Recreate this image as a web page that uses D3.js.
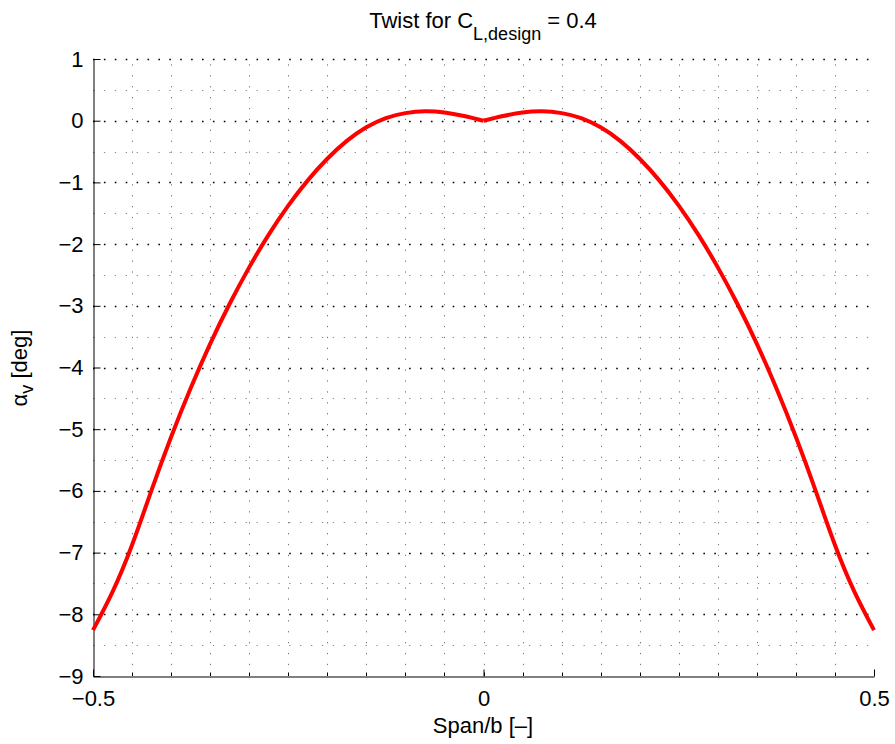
<!DOCTYPE html>
<html>
<head>
<meta charset="utf-8">
<script src="https://cdn.jsdelivr.net/npm/d3@7"></script>
<style>
  body { margin: 0; background: #fff; }
  svg { display: block; font-family: "Liberation Sans", Arial, Helvetica, sans-serif; }
</style>
</head>
<body>
<svg id="chart" width="895" height="744"></svg>
<script>
// ---- Data ----
const spanX = [-0.5, -0.475, -0.45, -0.425, -0.4, -0.375, -0.35, -0.325, -0.3, -0.275, -0.25, -0.225, -0.2, -0.175, -0.15, -0.125, -0.1, -0.075, -0.05, -0.025, 0,
               0.025, 0.05, 0.075, 0.1, 0.125, 0.15, 0.175, 0.2, 0.225, 0.25, 0.275, 0.3, 0.325, 0.35, 0.375, 0.4, 0.425, 0.45, 0.475, 0.5];
const twistDeg = [-8.257, -7.637, -6.877, -5.987, -5.127, -4.337, -3.617, -2.967, -2.377, -1.847, -1.377, -0.967, -0.617, -0.327, -0.107, 0.043, 0.123, 0.153, 0.133, 0.075, 0,
                  0.075, 0.133, 0.153, 0.123, 0.043, -0.107, -0.327, -0.617, -0.967, -1.377, -1.847, -2.377, -2.967, -3.617, -4.337, -5.127, -5.987, -6.877, -7.637, -8.257];
const xTicks = [-0.5, 0, 0.5];
const xTickLabels = ["\u22120.5", "0", "0.5"];
const yTicks = [1, 0, -1, -2, -3, -4, -5, -6, -7, -8, -9];
const xMinor = d3.range(-0.5, 0.5001, 0.05).map(v => +v.toFixed(3));
const yMinor = d3.range(-8.5, 1, 1);

// ---- Layout ----
const svg = d3.select("#chart");
const L = 93, R = 874, T = 59, B = 676;
const x = d3.scaleLinear().domain([-0.5, 0.5]).range([L, R]);
const y = d3.scaleLinear().domain([-9, 1]).range([B, T]);

const grid = svg.append("g");
// vertical grid (every 0.05)
grid.selectAll("line.vg").data(xMinor.filter(v => v > -0.5 && v < 0.5)).enter().append("line")
  .attr("x1", d => Math.round(x(d)) + 0.5).attr("x2", d => Math.round(x(d)) + 0.5)
  .attr("y1", B).attr("y2", T)
  .attr("stroke", "#777").attr("stroke-width", 1).attr("stroke-dasharray", "1.3,9.6");
// minor horizontal grid
grid.selectAll("line.hm").data(yMinor).enter().append("line")
  .attr("x1", L).attr("x2", R)
  .attr("y1", d => Math.round(y(d)) + 0.5).attr("y2", d => Math.round(y(d)) + 0.5)
  .attr("stroke", "#888").attr("stroke-width", 1).attr("stroke-dasharray", "1.3,9.6");
// major horizontal grid
grid.selectAll("line.hM").data(yTicks.filter(v => v > -9)).enter().append("line")
  .attr("x1", L).attr("x2", R)
  .attr("y1", d => Math.round(y(d)) + 0.5).attr("y2", d => Math.round(y(d)) + 0.5)
  .attr("stroke", "#000").attr("stroke-width", 1.5).attr("stroke-dasharray", "1.6,9.3");

// ---- Axes ----
const xAxis = d3.axisBottom(x).tickValues(xTicks).tickFormat((d, i) => xTickLabels[i]).tickSizeInner(-7).tickSizeOuter(0).tickPadding(14);
const gx = svg.append("g").attr("transform", `translate(0,${B + 0.5})`).call(xAxis);
gx.select(".domain").attr("stroke", "#000");
gx.selectAll("text").attr("font-size", 22).attr("fill", "#000");

// x minor ticks
svg.append("g").selectAll("line").data(xMinor).enter().append("line")
  .attr("x1", d => Math.round(x(d)) + 0.5).attr("x2", d => Math.round(x(d)) + 0.5)
  .attr("y1", B).attr("y2", B - 3.5).attr("stroke", "#000");

const yAxis = d3.axisLeft(y).tickValues(yTicks).tickFormat(d => d < 0 ? "\u2212" + Math.abs(d) : String(d)).tickSizeInner(-7).tickSizeOuter(0).tickPadding(10);
const gy = svg.append("g").attr("transform", `translate(${L + 0.5},0)`).call(yAxis);
gy.select(".domain").attr("stroke", "#000");
gy.selectAll("text").attr("font-size", 22).attr("fill", "#000");

// ---- Curve ----
const pts = spanX.map((v, i) => [v, twistDeg[i]]);
const line = d3.line().x(d => x(d[0])).y(d => y(d[1])).curve(d3.curveNatural);
const halves = [pts.slice(0, 21), pts.slice(20)];
svg.append("g").selectAll("path").data(halves).enter().append("path").attr("d", line)
  .attr("fill", "none").attr("stroke", "#ff0000").attr("stroke-width", 4)
  .attr("stroke-linejoin", "round").attr("stroke-linecap", "butt");

// ---- Titles ----
const title = svg.append("text").attr("x", 483).attr("y", 28).attr("text-anchor", "middle")
  .attr("font-size", 22).attr("fill", "#000");
title.append("tspan").text("Twist for C");
title.append("tspan").attr("font-size", 18).attr("dy", 12).text("L,design");
title.append("tspan").attr("dy", -12).text(" = 0.4");

svg.append("text").attr("x", 483).attr("y", 733).attr("text-anchor", "middle")
  .attr("font-size", 22).attr("fill", "#000").text("Span/b [\u2013]");

const ylab = svg.append("text").attr("transform", "translate(27,368) rotate(-90)")
  .attr("text-anchor", "middle").attr("font-size", 22).attr("fill", "#000");
ylab.append("tspan").text("\u03b1");
ylab.append("tspan").attr("font-size", 18).attr("dy", 6).text("v");
ylab.append("tspan").attr("dy", -6).text(" [deg]");
</script>
</body>
</html>
